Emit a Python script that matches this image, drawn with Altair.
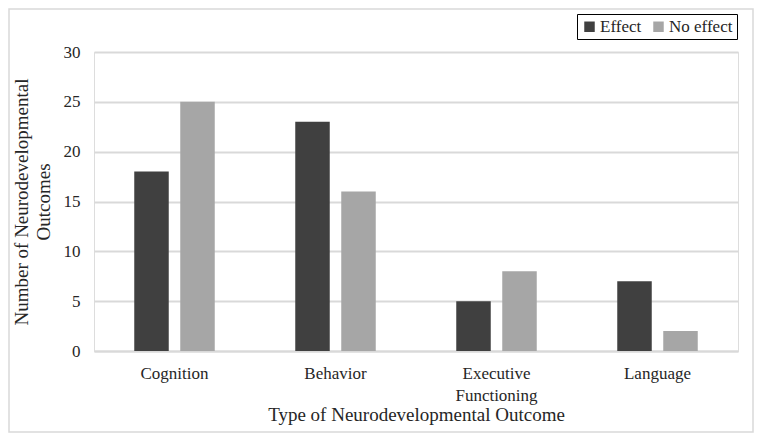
import altair as alt
import pandas as pd

categories = ["Cognition", "Behavior", "Executive Functioning", "Language"]
effect = [18, 23, 5, 7]
no_effect = [25, 16, 8, 2]
series = ["Effect", "No effect"]
colors = ["#404040", "#a6a6a6"]

rows = []
for c, e, n in zip(categories, effect, no_effect):
    rows.append({"Outcome": c, "Series": "Effect", "Count": e})
    rows.append({"Outcome": c, "Series": "No effect", "Count": n})
df = pd.DataFrame(rows)

FONT = "Liberation Serif"

bars = alt.Chart(df).mark_bar().encode(
    x=alt.X("Outcome:N", sort=categories,
            scale=alt.Scale(paddingInner=0.5, paddingOuter=0.25),
            axis=alt.Axis(title="Type of Neurodevelopmental Outcome", labelAngle=0,
                          labelExpr="split(datum.label, ' ')", labelLineHeight=22,
                          labelFontSize=17, titleFontSize=19, labelPadding=14,
                          titlePadding=2, ticks=False, domainColor="#d9d9d9",
                          domainWidth=2, labelColor="#262626", titleColor="#262626",
                          labelFont=FONT, titleFont=FONT, titleFontWeight="normal")),
    xOffset=alt.XOffset("Series:N", sort=series,
                        scale=alt.Scale(paddingInner=0.25, paddingOuter=0)),
    y=alt.Y("Count:Q", scale=alt.Scale(domain=[0, 30]),
            axis=alt.Axis(title=["Number of Neurodevelopmental", "Outcomes"],
                          values=[0, 5, 10, 15, 20, 25, 30], ticks=False, domain=False,
                          gridColor="#d9d9d9", gridWidth=2, labelPadding=14,
                          labelFontSize=17, titleFontSize=19, titlePadding=10,
                          labelColor="#262626", titleColor="#262626",
                          labelFont=FONT, titleFont=FONT, titleFontWeight="normal",
                          titleLineHeight=22)),
    color=alt.Color("Series:N", sort=series,
                    scale=alt.Scale(domain=series, range=colors),
                    legend=alt.Legend(title=None, orient="none", direction="horizontal",
                                      legendX=483, legendY=-38, strokeColor="black",
                                      padding=4, symbolType="square", symbolSize=110,
                                      symbolStrokeWidth=0, labelFontSize=17,
                                      labelFont=FONT, labelColor="#262626",
                                      columnPadding=8, labelOffset=2)),
)

frame = alt.Chart(pd.DataFrame({"a": [0]})).mark_rect(
    fill=None, stroke="#d9d9d9", strokeWidth=1.5
).encode(
    x=alt.value(-85), x2=alt.value(659), y=alt.value(-43), y2=alt.value(380)
)

chart = alt.layer(frame, bars).properties(
    width=644, height=299,
    autosize=alt.AutoSizeParams(type="none"),
    padding={"left": 86, "top": 44, "right": 16, "bottom": 82},
).configure_view(stroke=None).configure(background="white")

chart.save("out.html", embed_options={"renderer": "svg", "actions": False})
